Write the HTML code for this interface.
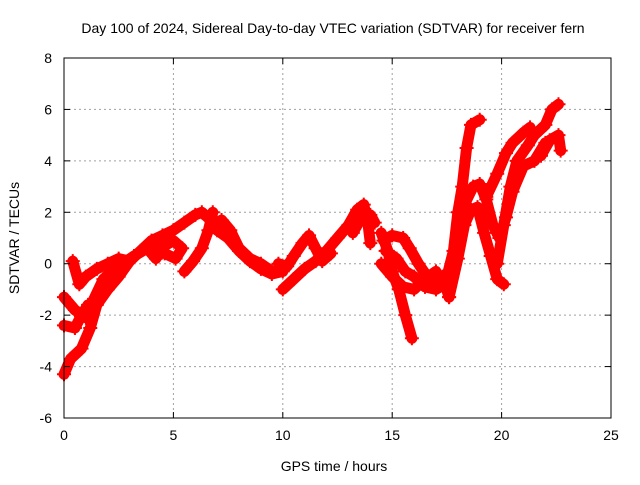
<!DOCTYPE html>
<html><head><meta charset="utf-8"><style>
body{margin:0;background:#fff;}
svg text{font-family:"Liberation Sans",sans-serif;font-size:14px;fill:#000;}
</style></head><body>
<svg id="chart" width="640" height="480" xmlns="http://www.w3.org/2000/svg">
<text x="333" y="33" text-anchor="middle">Day 100 of 2024, Sidereal Day-to-day VTEC variation (SDTVAR) for receiver fern</text>
<text x="334" y="471" text-anchor="middle">GPS time / hours</text>
<text transform="translate(19,238) rotate(-90)" text-anchor="middle">SDTVAR / TECUs</text>
<g id="grid"></g><g id="series"></g><g id="axes"></g>
</svg>
<script>
const xTicks=[0,5,10,15,20,25];
const yTicks=[-6,-4,-2,0,2,4,6,8];
const trA=[[0,-4.3],[0.3,-3.7],[0.8,-3.3],[1.2,-2.5],[1.5,-1.6],[2,-1.0],[2.5,-0.5],[3,0.1],[3.5,0.5],[4,0.9],[4.5,1.1],[5,1.3],[5.5,1.6],[6,1.9],[6.3,2.0],[6.7,1.7],[7,1.3],[7.5,1.0],[8,0.5],[8.5,0.1],[9,-0.2],[9.5,-0.4],[10,-0.3]];
const trB=[[0,-1.3],[0.5,-1.8],[1,-2.1],[1.3,-1.5],[1.8,-0.6],[2.5,-0.1],[3.2,0.3],[3.8,0.6],[4.2,0.2],[4.6,0.7],[5,0.9],[5.4,0.6],[5.1,0.2],[4.6,0.4],[4.3,0.7]];
const trC=[[0,-2.4],[0.5,-2.5],[0.8,-2.0],[1.1,-1.6]];
const trD=[[0.4,0.1],[0.7,-0.8],[1.0,-0.5],[1.5,-0.2],[2,0],[2.5,0.2],[3,0.1]];
const trE=[[5.5,-0.3],[5.9,0.1],[6.3,0.6],[6.6,1.3],[6.8,2.0]];
const trF=[[7.2,1.7],[7.6,1.3],[8,0.6],[8.5,0.2],[9,0],[9.5,-0.3]];
const trG=[[10,-1.0],[10.5,-0.6],[11,-0.2],[11.5,0.1],[12,0.5],[12.5,1.0],[13,1.5],[13.4,2.1],[13.7,2.3],[13.9,1.5],[14,0.8]];
const trH=[[9.8,0],[10.2,-0.1],[10.5,0.3],[10.9,0.8],[11.2,1.1],[11.5,0.6],[11.8,0.1],[12.2,0.4]];
const trI=[[14.5,1.2],[14.8,0.5],[15,-0.3],[15.3,-1.0],[15.6,-2.0],[15.9,-2.9]];
const trJ=[[14.6,0.9],[15,1.1],[15.5,1.0],[15.8,0.6],[16.2,0],[16.6,-0.5],[17,-0.8],[17.3,-0.5],[17.6,-1.3]];
const trK=[[14.5,0],[15,-0.5],[15.5,-0.9],[16,-1.0],[16.5,-0.6],[17,-0.3]];
const trK2=[[14.7,0.5],[15.2,0.2],[15.6,-0.3],[16,-0.5],[16.5,-0.9],[17,-1.0],[17.4,-0.8]];
const trK3=[[13.2,1.2],[13.6,1.8],[14,1.9],[14.2,1.6]];
const trL=[[17.5,-0.5],[17.8,0.5],[18,2.0],[18.2,3.0],[18.4,4.5],[18.6,5.4],[19,5.6]];
const trM=[[17.6,-1.3],[18,0.2],[18.3,1.5],[18.6,2.1],[18.9,2.2],[19.2,1.2],[19.5,0.3],[19.8,-0.6],[20.1,-0.8]];
const trN=[[17.9,0.7],[18.3,2.3],[18.7,3.0],[19,3.1],[19.3,2.5],[19.6,1.5],[19.9,1.0],[20.2,1.8],[20.5,2.8],[21,3.8],[21.5,4.0],[22,4.7]];
const trO=[[19.8,0],[20.1,1.5],[20.4,3.0],[20.7,4.0],[21.2,4.6],[21.5,5.0],[22,5.4],[22.3,6.0],[22.6,6.2]];
const trP=[[19.3,2.6],[19.8,3.5],[20.2,4.3],[20.5,4.7],[21,5.1],[21.3,5.3]];
const trQ=[[21.8,4.2],[22.2,4.8],[22.6,5.0],[22.7,4.4]];
const traces=[trA,trB,trC,trD,trE,trF,trG,trH,trI,trJ,trK,trK2,trK3,trL,trM,trN,trO,trP,trQ];
const X0=64,X1=611,Y0=418,Y1=58;
const sx=v=>X0+(v-0)/25*(X1-X0);
const sy=v=>Y0-(v+6)/14*(Y0-Y1);
const NS="http://www.w3.org/2000/svg";
function mk(t,a,p){const e=document.createElementNS(NS,t);for(const k in a)e.setAttribute(k,a[k]);p.appendChild(e);return e;}
const grid=document.getElementById('grid'),axes=document.getElementById('axes'),ser=document.getElementById('series');
xTicks.forEach(t=>{const x=sx(t);
 if(t>0&&t<25){const g=mk('line',{x1:x,x2:x,y1:Y1,y2:Y0,stroke:'#a0a0a0','stroke-dasharray':'2,3'},grid);
 
 }
 mk('line',{x1:x,x2:x,y1:Y0,y2:Y0-6,stroke:'#000'},axes);
 mk('line',{x1:x,x2:x,y1:Y1,y2:Y1+6,stroke:'#000'},axes);
 const l=mk('text',{x:x,y:Y0+22,'text-anchor':'middle'},axes);l.textContent=t;
 
 });
yTicks.forEach(t=>{const y=sy(t);
 if(t>-6&&t<8){const g=mk('line',{x1:X0,x2:X1,y1:y,y2:y,stroke:'#a0a0a0','stroke-dasharray':'2,3'},grid);
 
 }
 mk('line',{x1:X0,x2:X0+6,y1:y,y2:y,stroke:'#000'},axes);
 mk('line',{x1:X1,x2:X1-6,y1:y,y2:y,stroke:'#000'},axes);
 const l=mk('text',{x:X0-12,y:y+5,'text-anchor':'end'},axes);l.textContent=t;
 
 });
const fr=mk('rect',{x:X0,y:Y1,width:X1-X0,height:Y0-Y1,fill:'none',stroke:'#000'},axes);


traces.forEach(tr=>{
 const pts=tr.map(p=>sx(p[0])+','+sy(p[1])).join(' ');
 const pl=mk('polyline',{points:pts,fill:'none',stroke:'#ff0000','stroke-width':11,'stroke-linejoin':'round','stroke-linecap':'round'},ser);
 
 
 tr.forEach(p=>{const x=sx(p[0]),y=sy(p[1]);
  const m=mk('path',{d:`M${x-7},${y}H${x+7}M${x},${y-7}V${y+7}`,stroke:'#ff0000','stroke-width':2},ser);
  
  });
});
</script>
</body></html>
